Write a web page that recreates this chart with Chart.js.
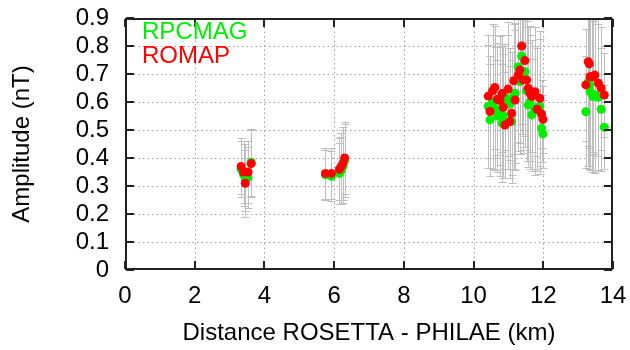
<!DOCTYPE html>
<html>
<head>
<meta charset="utf-8">
<script src="https://cdn.jsdelivr.net/npm/chart.js@4/dist/chart.umd.min.js"></script>
<style>
  html, body { margin: 0; padding: 0; background: #fff; }
  #wrap { width: 630px; height: 350px; }
</style>
</head>
<body>
<div id="wrap"><canvas id="myChart"></canvas></div>
<script>
// distance Rosetta - Philae (km), one entry per measurement
const distances = [
    3.33, 3.40, 3.45, 3.53, 3.62,
    5.75, 5.92, 6.15, 6.20, 6.25, 6.30,
    10.42, 10.47, 10.55, 10.61, 10.68, 10.76, 10.82, 10.85, 10.90, 10.99,
    11.04, 11.09, 11.15, 11.19, 11.28, 11.33, 11.38, 11.42, 11.47, 11.52,
    11.57, 11.62, 11.67, 11.76, 11.82, 11.90, 11.95, 11.99,
    13.22, 13.29, 13.32, 13.34, 13.39, 13.43, 13.48, 13.58, 13.66, 13.75
];
const rpcmag = [
    0.360, 0.340, 0.330, 0.330, 0.385,
    0.340, 0.335, 0.345, 0.355, 0.370, 0.390,
    0.584, 0.536, 0.600, 0.577, 0.550, 0.566, 0.524, 0.550, 0.617, 0.600,
    0.593, 0.530, 0.620, 0.631, 0.726, 0.673, 0.764, 0.690, 0.708, 0.640,
    0.589, 0.600, 0.554, 0.570, 0.580, 0.584, 0.506, 0.486,
    0.565, 0.672, 0.660, 0.637, 0.630, 0.619, 0.625, 0.617, 0.574, 0.510
];
const romap = [
    0.370, 0.350, 0.310, 0.350, 0.380,
    0.345, 0.345, 0.360, 0.370, 0.380, 0.400,
    0.621, 0.566, 0.640, 0.652, 0.610, 0.605, 0.630, 0.581, 0.518, 0.646,
    0.530, 0.560, 0.676, 0.607, 0.696, 0.714, 0.800, 0.679, 0.748, 0.679,
    0.649, 0.631, 0.620, 0.637, 0.574, 0.613, 0.557, 0.538,
    0.661, 0.744, 0.736, 0.690, 0.690, 0.690, 0.696, 0.667, 0.649, 0.625
];
// half length of the error bars (nT)
const errors = [
    0.10, 0.11, 0.12, 0.11, 0.12,
    0.09, 0.09, 0.11, 0.12, 0.13, 0.13,
    0.22, 0.20, 0.24, 0.22, 0.20, 0.23, 0.21, 0.22, 0.19, 0.24,
    0.20, 0.22, 0.26, 0.25, 0.27, 0.26, 0.28, 0.26, 0.27, 0.25,
    0.22, 0.24, 0.20, 0.23, 0.22, 0.24, 0.12, 0.12,
    0.20, 0.30, 0.30, 0.28, 0.28, 0.27, 0.28, 0.26, 0.22, 0.15
];
const xTicks = [0, 2, 4, 6, 8, 10, 12, 14];
const yTicks = [0, 0.1, 0.2, 0.3, 0.4, 0.5, 0.6, 0.7, 0.8, 0.9];

const FONT = "'Liberation Sans', Arial, Helvetica, sans-serif";
const CHART = document.getElementById("myChart");

function pts(vals) {
    return distances.map((d, i) => ({x: d, y: vals[i], e: errors[i]}));
}

// dotted grid + gray error bars underneath the points
const underPlugin = {
    id: 'under',
    beforeDatasetsDraw(chart) {
        const ctx = chart.ctx;
        const a = chart.chartArea;
        const xs = chart.scales.x, ys = chart.scales.y;
        ctx.save();
        ctx.strokeStyle = '#a0a0a0';
        ctx.lineWidth = 1;
        ctx.setLineDash([1.5, 3]);
        xTicks.slice(1, -1).forEach(v => {
            const px = Math.round(xs.getPixelForValue(v)) + 0.5;
            ctx.beginPath(); ctx.moveTo(px, a.top); ctx.lineTo(px, a.bottom); ctx.stroke();
        });
        yTicks.slice(1, -1).forEach(v => {
            const py = Math.round(ys.getPixelForValue(v)) + 0.5;
            ctx.beginPath(); ctx.moveTo(a.left, py); ctx.lineTo(a.right, py); ctx.stroke();
        });
        ctx.setLineDash([]);

        ctx.beginPath();
        ctx.rect(a.left, a.top, a.right - a.left, a.bottom - a.top);
        ctx.clip();
        ctx.strokeStyle = '#bebebe';
        chart.data.datasets.forEach(ds => {
            ds.data.forEach(p => {
                const px = Math.round(xs.getPixelForValue(p.x)) + 0.5;
                const y1 = ys.getPixelForValue(p.y - p.e);
                const y2 = ys.getPixelForValue(p.y + p.e);
                ctx.beginPath();
                ctx.moveTo(px, y1); ctx.lineTo(px, y2);
                ctx.moveTo(px - 4, Math.round(y1) + 0.5); ctx.lineTo(px + 4, Math.round(y1) + 0.5);
                ctx.moveTo(px - 4, Math.round(y2) + 0.5); ctx.lineTo(px + 4, Math.round(y2) + 0.5);
                ctx.stroke();
            });
        });
        ctx.restore();
    }
};

// black border with inward ticks on all four sides, and the text-only legend
const overPlugin = {
    id: 'over',
    afterDraw(chart) {
        const ctx = chart.ctx;
        const a = chart.chartArea;
        const xs = chart.scales.x, ys = chart.scales.y;
        const L = Math.round(a.left) + 1, R = Math.round(a.right) - 1;
        const T = Math.round(a.top) + 1, B = Math.round(a.bottom) - 1;
        ctx.save();
        ctx.strokeStyle = '#222222';
        ctx.lineWidth = 2;
        ctx.beginPath();
        ctx.moveTo(L, T); ctx.lineTo(R, T); ctx.lineTo(R, B); ctx.lineTo(L, B); ctx.closePath();
        xTicks.forEach(v => {
            const px = Math.round(xs.getPixelForValue(v));
            ctx.moveTo(px, B); ctx.lineTo(px, B - 8);
            ctx.moveTo(px, T); ctx.lineTo(px, T + 8);
        });
        yTicks.forEach(v => {
            const py = Math.round(ys.getPixelForValue(v));
            ctx.moveTo(L, py); ctx.lineTo(L + 8, py);
            ctx.moveTo(R, py); ctx.lineTo(R - 8, py);
        });
        ctx.stroke();

        ctx.font = '24px ' + FONT;
        ctx.textAlign = 'left';
        ctx.textBaseline = 'middle';
        chart.data.datasets.forEach((ds, i) => {
            ctx.fillStyle = ds.backgroundColor;
            ctx.fillText(ds.label, a.left + 17, a.top + 14 + i * 24);
        });
        ctx.restore();
    }
};

const myChart = new Chart(CHART, {
    type: 'scatter',
    data: {
        datasets: [{
            label: 'RPCMAG',
            data: pts(rpcmag),
            backgroundColor: '#00ee00',
            borderWidth: 0,
            pointRadius: 4.5,
            order: 1
        }, {
            label: 'ROMAP',
            data: pts(romap),
            backgroundColor: '#ff0000',
            borderWidth: 0,
            pointRadius: 4.5,
            order: 0
        }]
    },
    options: {
        responsive: true,
        maintainAspectRatio: false,
        animation: false,
        layout: { padding: { top: 18, right: 17, left: 0, bottom: 0 } },
        plugins: { legend: { display: false }, tooltip: { enabled: false } },
        scales: {
            x: {
                type: 'linear',
                min: 0, max: 14,
                afterBuildTicks: s => { s.ticks = xTicks.map(v => ({value: v})); },
                afterFit: s => { s.height = 80; s.paddingLeft = 0; s.paddingRight = 0; },
                grid: { display: false, drawTicks: false },
                border: { display: false },
                ticks: {
                    autoSkip: false,
                    maxRotation: 0,
                    padding: 12,
                    color: '#000',
                    font: { family: FONT, size: 24 },
                    callback: v => String(v)
                },
                title: {
                    display: true,
                    text: 'Distance ROSETTA - PHILAE (km)',
                    color: '#000',
                    font: { family: FONT, size: 24 },
                    padding: { top: 0, bottom: 2 }
                }
            },
            y: {
                type: 'linear',
                min: 0, max: 0.9,
                afterBuildTicks: s => { s.ticks = yTicks.map(v => ({value: v})); },
                afterFit: s => { s.width = 125; s.paddingTop = 0; s.paddingBottom = 0; },
                grid: { display: false, drawTicks: false },
                border: { display: false },
                ticks: {
                    autoSkip: false,
                    padding: 16,
                    color: '#000',
                    font: { family: FONT, size: 24 },
                    callback: v => String(Math.round(v * 10) / 10)
                },
                title: {
                    display: true,
                    text: 'Amplitude (nT)',
                    color: '#000',
                    font: { family: FONT, size: 24 },
                    padding: { top: 8, bottom: 0 }
                }
            }
        }
    },
    plugins: [underPlugin, overPlugin]
});
</script>
</body>
</html>
